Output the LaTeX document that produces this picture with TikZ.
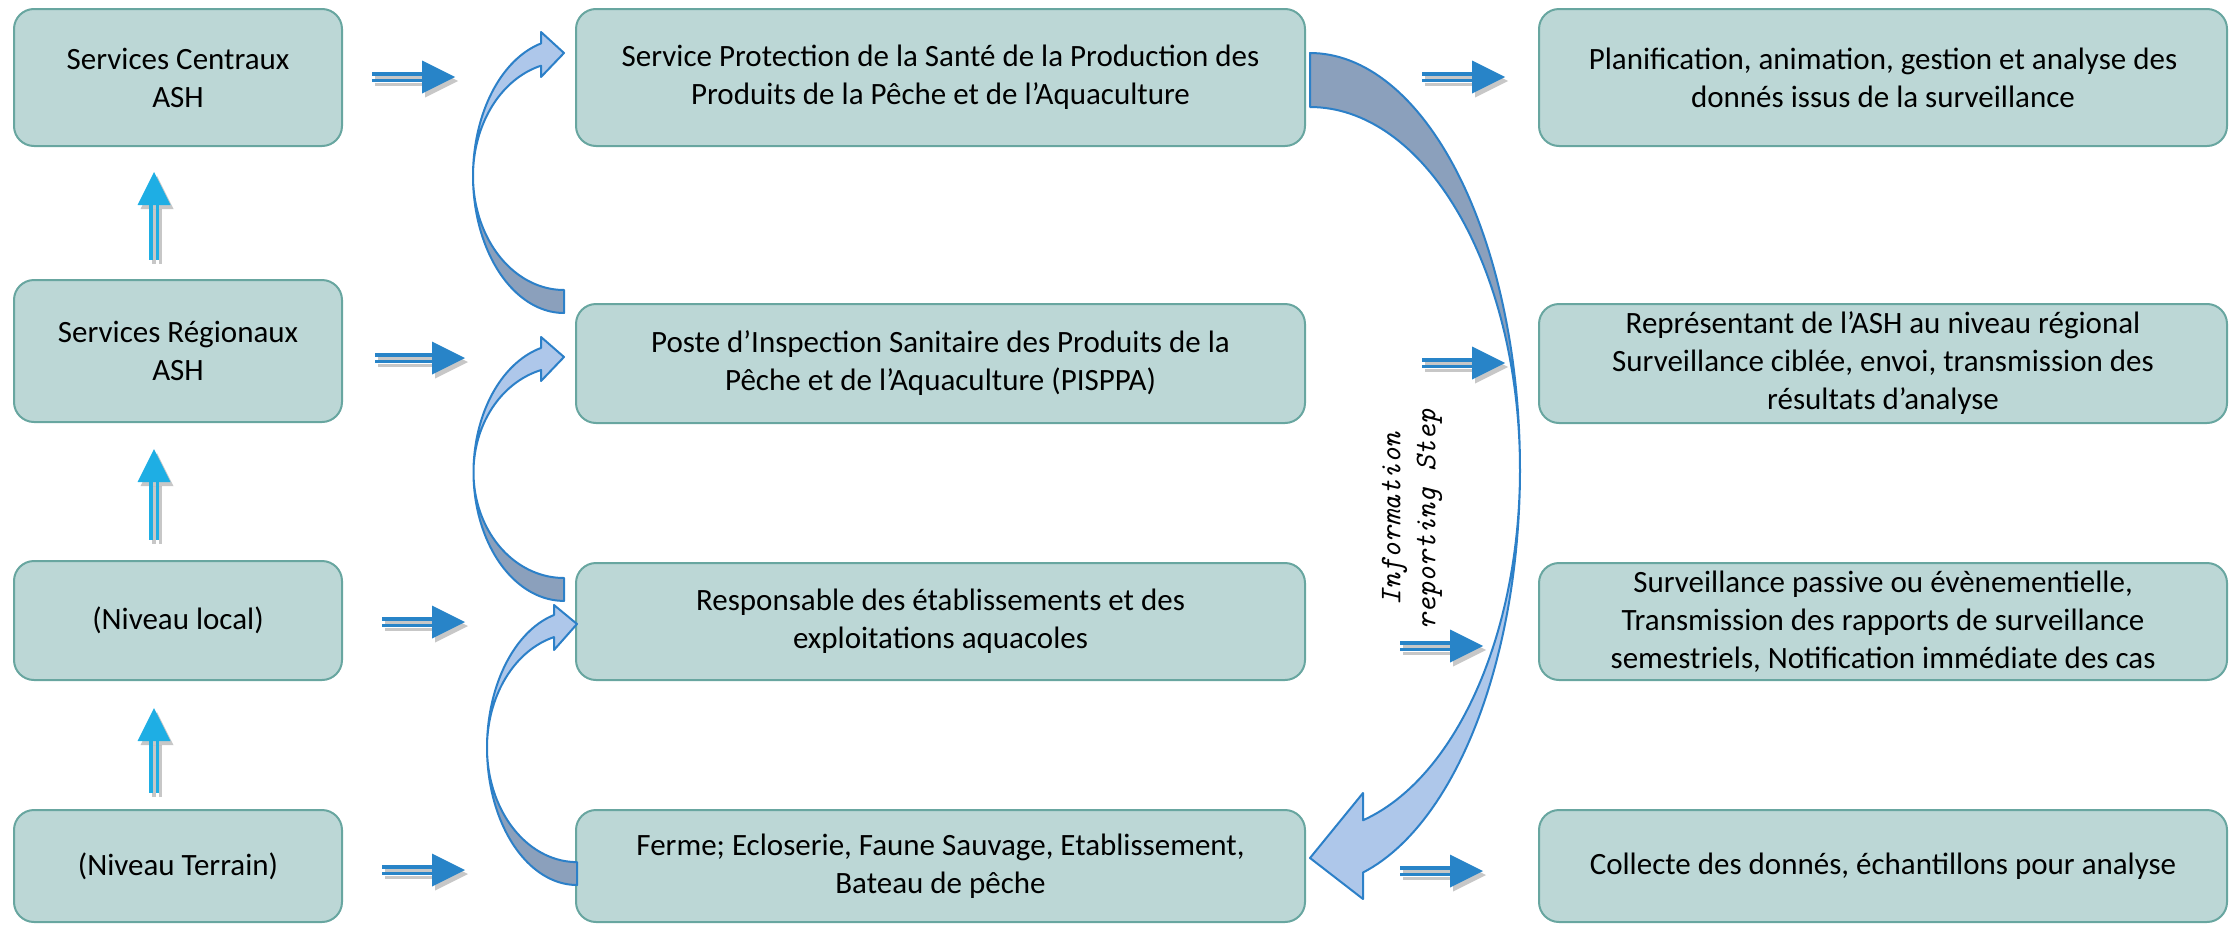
\documentclass[tikz,border=0pt]{standalone}
\usepackage{fontspec}
\setmainfont{Carlito}
\definecolor{boxfill}{RGB}{188,215,214}
\definecolor{boxline}{RGB}{104,166,160}
\definecolor{darkfill}{RGB}{139,160,188}
\definecolor{lightfill}{RGB}{174,199,234}
\definecolor{outlblue}{RGB}{44,128,200}
\definecolor{arrowblue}{RGB}{40,132,200}
\definecolor{arrowcyan}{RGB}{30,174,228}
\tikzset{
  box/.style={draw=boxline, fill=boxfill, line width=2pt, rounded corners=20pt,
    align=center, inner sep=0pt, font=\fontsize{31}{38}\selectfont},
  shd/.style={fill=black, fill opacity=0.22},
  harr/.style={fill=arrowblue},
  varr/.style={fill=arrowcyan},
  outl/.style={draw=outlblue, line width=2pt, line join=round},
}
% horizontal double-shaft arrow: start x, tip x, y
\newcommand\HArr[3]{%
  \foreach \dx/\dy/\st in {3/4/shd, 0/0/harr}{%
    \begin{scope}[shift={(\dx,\dy)}]
      \fill[\st] (#1,#3-5) rectangle (#2-33,#3-1.5);
      \fill[\st] (#1,#3+1.5) rectangle (#2-33,#3+5);
      \fill[\st] (#2-33,#3-16.5) -- (#2,#3) -- (#2-33,#3+16.5) -- cycle;
    \end{scope}}}
% vertical double-shaft arrow: x, tip y, bottom y
\newcommand\VArr[3]{%
  \foreach \dx/\dy/\st in {3/4/shd, 0/0/varr}{%
    \begin{scope}[shift={(\dx,\dy)}]
      \fill[\st] (#1-5,#3) rectangle (#1-1.5,#2+33);
      \fill[\st] (#1+1.5,#3) rectangle (#1+5,#2+33);
      \fill[\st] (#1-16.5,#2+33) -- (#1,#2) -- (#1+16.5,#2+33) -- cycle;
    \end{scope}}}
% curved arrow (left side, pointing right at top)
% #1 cx, #2 cy, #3 rx, #4 ry outer, #5 ry inner, #6 end angle, #7 head top y, #8 head bottom y, #9 tip y
\newcommand\CArr[9]{%
  \pgfmathsetmacro\hbx{#1+#3*cos(#6)}
  \fill[darkfill] plot[domain=90:180,samples=40,variable=\t] ({#1+#3*cos(\t)},{#2+#4*sin(\t)})
     -- plot[domain=180:90,samples=40,variable=\t] ({#1+#3*cos(\t)},{#2+#5*sin(\t)}) -- cycle;
  \fill[lightfill] plot[domain=180:#6,samples=40,variable=\t] ({#1+#3*cos(\t)},{#2+#4*sin(\t)})
     -- (\hbx,#7) -- (#1,#9) -- (\hbx,#8)
     -- plot[domain=#6:180,samples=40,variable=\t] ({#1+#3*cos(\t)},{#2+#5*sin(\t)}) -- cycle;
  \draw[outl] plot[domain=90:#6,samples=80,variable=\t] ({#1+#3*cos(\t)},{#2+#4*sin(\t)})
     -- (\hbx,#7) -- (#1,#9) -- (\hbx,#8)
     -- plot[domain=#6:90,samples=80,variable=\t] ({#1+#3*cos(\t)},{#2+#5*sin(\t)}) -- cycle;
}
\begin{document}
\begin{tikzpicture}[x=1pt,y=-1pt]
\useasboundingbox (0,0) rectangle (2234,929);
% left column
\node[box, minimum width=328pt, minimum height=137pt] (L1) at (178,77.5) {Services Centraux\\ASH};
\node[box, minimum width=328pt, minimum height=142pt] (L2) at (178,351) {Services Régionaux\\ASH};
\node[box, minimum width=328pt, minimum height=119pt] (L3) at (178,620.5) {(Niveau local)};
\node[box, minimum width=328pt, minimum height=112pt] (L4) at (178,866) {(Niveau Terrain)};
% middle column
\node[box, minimum width=729pt, minimum height=137pt] (M1) at (940.5,77.5)
  {Service Protection de la Santé de la Production des\\Produits de la Pêche et de l’Aquaculture};
\node[box, minimum width=729pt, minimum height=119pt] (M2) at (940.5,363.5)
  {Poste d’Inspection Sanitaire des Produits de la\\Pêche et de l’Aquaculture (PISPPA)};
\node[box, minimum width=729pt, minimum height=117pt] (M3) at (940.5,621.5)
  {Responsable des établissements et des\\exploitations aquacoles};
\node[box, minimum width=729pt, minimum height=112pt] (M4) at (940.5,866)
  {Ferme; Ecloserie, Faune Sauvage, Etablissement,\\Bateau de pêche};
% right column
\node[box, minimum width=688pt, minimum height=137pt] (R1) at (1883,77.5)
  {Planification, animation, gestion et analyse des\\donnés issus de la surveillance};
\node[box, minimum width=688pt, minimum height=119pt] (R2) at (1883,363.5)
  {Représentant de l’ASH au niveau régional\\Surveillance ciblée, envoi, transmission des\\résultats d’analyse};
\node[box, minimum width=688pt, minimum height=117pt] (R3) at (1883,621.5)
  {Surveillance passive ou évènementielle,\\Transmission des rapports de surveillance\\semestriels, Notification immédiate des cas};
\node[box, minimum width=688pt, minimum height=112pt] (R4) at (1883,866)
  {Collecte des donnés, échantillons pour analyse};
% vertical arrows (left column)
\VArr{154}{172}{260}
\VArr{154}{449}{540}
\VArr{154}{708}{793}
% horizontal arrows left -> middle
\HArr{372}{455}{77}
\HArr{375}{465}{358}
\HArr{382}{465}{622}
\HArr{382}{465}{870}
% horizontal arrows middle -> right
\HArr{1422}{1505}{77}
\HArr{1422}{1505}{363}
\HArr{1400}{1483}{646}
\HArr{1400}{1483}{871}
% small curved arrows
\CArr{564}{176}{91}{137}{114}{255.36}{32}{77}{53}
\CArr{564}{472.3}{90.5}{128.6}{105.7}{255.3}{337}{381}{357}
\CArr{577}{747.7}{90}{137.3}{114.4}{255.19}{605}{650}{624}
% big curved arrow
\fill[darkfill] plot[domain=-90:0,samples=60,variable=\t] ({1310+210*cos(\t)},{469.5+416.5*sin(\t)})
   -- plot[domain=0:-90,samples=60,variable=\t] ({1310+210*cos(\t)},{469.5+362.5*sin(\t)}) -- cycle;
\fill[lightfill] plot[domain=0:75.38,samples=60,variable=\t] ({1310+210*cos(\t)},{469.5+416.5*sin(\t)})
   -- (1363,899) -- (1310,858) -- (1363,793)
   -- plot[domain=75.38:0,samples=60,variable=\t] ({1310+210*cos(\t)},{469.5+362.5*sin(\t)}) -- cycle;
\draw[outl] plot[domain=-90:75.38,samples=120,variable=\t] ({1310+210*cos(\t)},{469.5+416.5*sin(\t)})
   -- (1363,899) -- (1310,858) -- (1363,793)
   -- plot[domain=75.38:-90,samples=120,variable=\t] ({1310+210*cos(\t)},{469.5+362.5*sin(\t)}) -- cycle;
% label
\node[rotate=90, align=center, font=\fontsize{30}{35}\selectfont\ttfamily\itshape] (lab) at (1412,519)
  {Information\\reporting Step};
\end{tikzpicture}
\end{document}
